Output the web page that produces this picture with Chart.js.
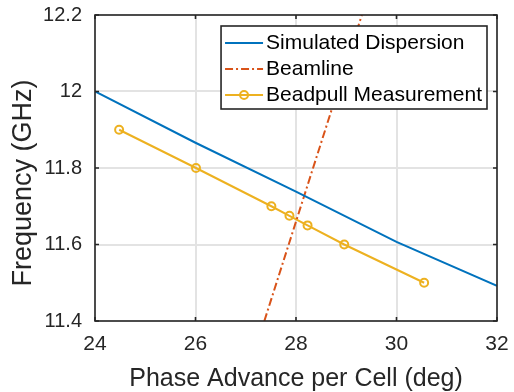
<!DOCTYPE html>
<html>
<head>
<meta charset="utf-8">
<script src="https://cdn.jsdelivr.net/npm/chart.js@4"></script>
<style>
  body { margin: 0; background: #fff; }
</style>
</head>
<body>
<canvas id="chart" width="514" height="392"></canvas>
<script>
// values
var simPhase = [24, 26, 28, 30, 32];
var simFreq = [12.0, 11.866, 11.738, 11.607, 11.492];

var beamPhase = [27.37, 29.31];
var beamFreq = [11.4, 12.2];

var beadPhase = [24.48, 26.01, 27.51, 27.87, 28.23, 28.96, 30.55];
var beadFreq = [11.9, 11.8, 11.7, 11.675, 11.65, 11.6, 11.5];

var xTicks = [24, 26, 28, 30, 32];
var yTicks = [11.4, 11.6, 11.8, 12, 12.2];

var FONT = "'Liberation Sans', Arial, Helvetica, sans-serif";
var INK = '#262626';

function pts(xs, ys) {
    return xs.map(function (v, i) { return {x: v, y: ys[i]}; });
}

// box, inward ticks, legend and y label, MATLAB style
var frame = {
    id: 'frame',
    afterDatasetsDraw: function (chart) {
        var ctx = chart.ctx, a = chart.chartArea;
        var xs = chart.scales.x, ys = chart.scales.y;
        ctx.save();
        ctx.strokeStyle = INK;
        ctx.lineWidth = 1.6;
        ctx.strokeRect(a.left, a.top, a.right - a.left, a.bottom - a.top);
        ctx.beginPath();
        xs.ticks.forEach(function (t) {
            var p = xs.getPixelForValue(t.value);
            ctx.moveTo(p, a.bottom); ctx.lineTo(p, a.bottom - 4);
            ctx.moveTo(p, a.top); ctx.lineTo(p, a.top + 4);
        });
        ys.ticks.forEach(function (t) {
            var p = ys.getPixelForValue(t.value);
            ctx.moveTo(a.left, p); ctx.lineTo(a.left + 4, p);
            ctx.moveTo(a.right, p); ctx.lineTo(a.right - 4, p);
        });
        ctx.stroke();

        // legend
        ctx.font = '21px ' + FONT;
        var sets = chart.data.datasets;
        var tw = 0;
        sets.forEach(function (d) { tw = Math.max(tw, ctx.measureText(d.label).width); });
        var w = 4 + 38 + 3 + tw + 5;
        var h = 83;
        var x0 = a.right - 10 - w, y0 = a.top + 11;
        ctx.fillStyle = '#fff';
        ctx.fillRect(x0, y0, w, h);
        ctx.lineWidth = 1.6;
        ctx.strokeStyle = INK;
        ctx.strokeRect(x0, y0, w, h);
        sets.forEach(function (d, i) {
            var ry = y0 + 17 + i * 26;
            ctx.strokeStyle = d.borderColor;
            ctx.lineWidth = d.borderWidth;
            ctx.setLineDash(d.borderDash || []);
            ctx.beginPath();
            ctx.moveTo(x0 + 4, ry);
            ctx.lineTo(x0 + 42, ry);
            ctx.stroke();
            ctx.setLineDash([]);
            if (d.pointRadius > 0) {
                ctx.beginPath();
                ctx.arc(x0 + 23, ry, d.pointRadius, 0, Math.PI * 2);
                ctx.stroke();
            }
            ctx.fillStyle = '#000';
            ctx.textAlign = 'left';
            ctx.textBaseline = 'middle';
            ctx.fillText(d.label, x0 + 45, ry);
        });

        // y axis label
        ctx.translate(24, 183);
        ctx.rotate(-Math.PI / 2);
        ctx.font = '27px ' + FONT;
        ctx.fillStyle = INK;
        ctx.textAlign = 'center';
        ctx.textBaseline = 'middle';
        ctx.fillText('Frequency (GHz)', 0, 0);
        ctx.restore();
    }
};

var ctx = document.getElementById('chart').getContext('2d');
var chart = new Chart(ctx, {
    type: 'scatter',
    data: {
        datasets: [{
            label: 'Simulated Dispersion',
            data: pts(simPhase, simFreq),
            showLine: true,
            borderColor: '#0072BD',
            borderWidth: 2,
            pointRadius: 0
        }, {
            label: 'Beamline',
            data: pts(beamPhase, beamFreq),
            showLine: true,
            borderColor: '#D95319',
            borderWidth: 2,
            borderDash: [8, 3, 2, 3],
            pointRadius: 0
        }, {
            label: 'Beadpull Measurement',
            data: pts(beadPhase, beadFreq),
            showLine: true,
            borderColor: '#EDB120',
            borderWidth: 2,
            pointRadius: 4,
            pointBorderWidth: 2,
            pointBackgroundColor: 'rgba(0,0,0,0)',
            pointBorderColor: '#EDB120'
        }]
    },
    options: {
        responsive: false,
        animation: false,
        devicePixelRatio: 1,
        layout: { padding: { left: 0, right: 17, top: 15, bottom: 0 } },
        plugins: { legend: { display: false }, tooltip: { enabled: false } },
        scales: {
            x: {
                type: 'linear',
                min: 24, max: 32,
                afterBuildTicks: function (s) { s.ticks = xTicks.map(function (v) { return {value: v}; }); },
                afterFit: function (s) { s.height = 71; s.paddingLeft = 0; s.paddingRight = 0; },
                grid: { color: '#e3e3e3', lineWidth: 2, drawTicks: false },
                border: { display: false },
                ticks: { color: INK, font: { family: FONT, size: 21 }, padding: 11, maxRotation: 0 },
                title: {
                    display: true,
                    text: 'Phase Advance per Cell (deg)',
                    color: INK,
                    font: { family: FONT, size: 25 },
                    padding: { top: 0, bottom: -2 }
                }
            },
            y: {
                type: 'linear',
                min: 11.4, max: 12.2,
                afterBuildTicks: function (s) { s.ticks = yTicks.map(function (v) { return {value: v}; }); },
                afterFit: function (s) { s.width = 95; s.paddingTop = 0; s.paddingBottom = 0; },
                grid: { color: '#e3e3e3', lineWidth: 2, drawTicks: false },
                border: { display: false },
                ticks: {
                    color: INK,
                    font: { family: FONT, size: 20 },
                    padding: 13,
                    callback: function (v) { return String(Number(v.toFixed(1))); }
                }
            }
        }
    },
    plugins: [frame]
});
</script>
</body>
</html>
